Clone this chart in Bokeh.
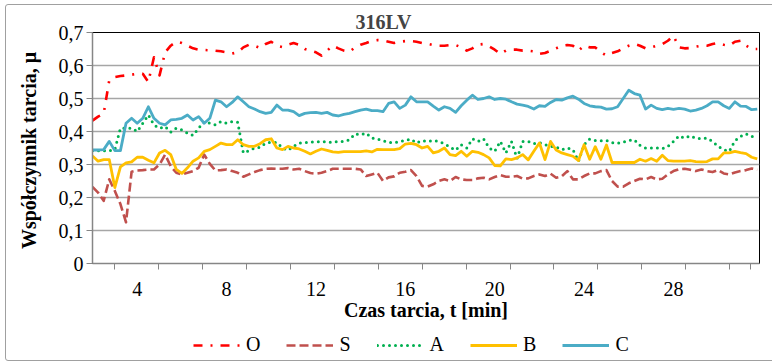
import numpy as np
from bokeh.plotting import figure
from bokeh.layouts import column
from bokeh.models import (FixedTicker, CustomJSTickFormatter, Legend, LegendItem,
                          Range1d, InlineStyleSheet)
from bokeh.embed import file_html
from bokeh.resources import INLINE

# friction time, min (one reading every 15 s)
time_min = np.arange(2.0, 31.76, 0.25)

series_names = ["O", "S", "A", "B", "C"]

mu_O = [0.433, 0.445, 0.454, 0.555, 0.565, 0.568, 0.570, 0.572, 0.575, 0.575,
        0.550, 0.625, 0.570, 0.640, 0.660, 0.672, 0.668, 0.660, 0.652, 0.648,
        0.647, 0.646, 0.645, 0.643, 0.640, 0.636, 0.640, 0.655, 0.663, 0.660,
        0.653, 0.665, 0.672, 0.660, 0.656, 0.663, 0.668, 0.663, 0.650, 0.645,
        0.640, 0.630, 0.645, 0.660, 0.652, 0.645, 0.642, 0.655, 0.663, 0.668,
        0.675, 0.677, 0.676, 0.672, 0.668, 0.672, 0.674, 0.674, 0.672, 0.668,
        0.666, 0.662, 0.660, 0.660, 0.662, 0.662, 0.655, 0.645, 0.652, 0.663,
        0.665, 0.658, 0.648, 0.635, 0.645, 0.648, 0.648, 0.645, 0.645, 0.643,
        0.635, 0.638, 0.645, 0.652, 0.660, 0.662, 0.660, 0.645, 0.660, 0.655,
        0.655, 0.640, 0.630, 0.638, 0.643, 0.652, 0.660, 0.665, 0.660, 0.652,
        0.655, 0.660, 0.665, 0.675, 0.690, 0.655, 0.652, 0.653, 0.657, 0.660,
        0.660, 0.665, 0.668, 0.663, 0.660, 0.672, 0.675, 0.660, 0.650, 0.650]

mu_S = [0.232, 0.215, 0.190, 0.255, 0.220, 0.180, 0.125, 0.278, 0.282, 0.283,
        0.285, 0.285, 0.300, 0.330, 0.295, 0.275, 0.270, 0.275, 0.280, 0.290,
        0.330, 0.302, 0.282, 0.283, 0.285, 0.280, 0.275, 0.263, 0.270, 0.277,
        0.283, 0.287, 0.288, 0.287, 0.287, 0.289, 0.285, 0.287, 0.280, 0.274,
        0.272, 0.275, 0.280, 0.287, 0.287, 0.287, 0.287, 0.287, 0.285, 0.265,
        0.270, 0.275, 0.250, 0.261, 0.264, 0.275, 0.278, 0.283, 0.265, 0.235,
        0.233, 0.240, 0.250, 0.255, 0.250, 0.262, 0.255, 0.253, 0.253, 0.258,
        0.260, 0.255, 0.262, 0.268, 0.263, 0.263, 0.265, 0.257, 0.258, 0.265,
        0.270, 0.265, 0.272, 0.260, 0.264, 0.280, 0.255, 0.255, 0.265, 0.273,
        0.273, 0.280, 0.283, 0.250, 0.233, 0.233, 0.243, 0.250, 0.257, 0.255,
        0.262, 0.255, 0.257, 0.270, 0.280, 0.286, 0.287, 0.284, 0.280, 0.285,
        0.280, 0.277, 0.283, 0.273, 0.270, 0.276, 0.280, 0.283, 0.288, 0.284]

mu_A = [0.342, 0.342, 0.342, 0.342, 0.345, 0.410, 0.410, 0.410, 0.400, 0.425,
        0.450, 0.420, 0.410, 0.415, 0.398, 0.410, 0.405, 0.395, 0.388, 0.410,
        0.430, 0.425, 0.420, 0.430, 0.425, 0.430, 0.428, 0.335, 0.342, 0.350,
        0.352, 0.365, 0.367, 0.367, 0.350, 0.343, 0.355, 0.365, 0.366, 0.368,
        0.368, 0.370, 0.368, 0.367, 0.370, 0.370, 0.375, 0.393, 0.390, 0.395,
        0.380, 0.377, 0.372, 0.367, 0.366, 0.369, 0.373, 0.377, 0.365, 0.372,
        0.370, 0.373, 0.370, 0.363, 0.353, 0.343, 0.360, 0.350, 0.378, 0.370,
        0.378, 0.350, 0.340, 0.370, 0.335, 0.370, 0.318, 0.370, 0.370, 0.363,
        0.366, 0.360, 0.355, 0.353, 0.345, 0.350, 0.345, 0.310, 0.360, 0.377,
        0.373, 0.372, 0.373, 0.366, 0.364, 0.368, 0.373, 0.375, 0.358, 0.350,
        0.350, 0.350, 0.348, 0.355, 0.370, 0.387, 0.380, 0.387, 0.380, 0.378,
        0.380, 0.370, 0.355, 0.345, 0.340, 0.372, 0.385, 0.393, 0.385, 0.382]

mu_B = [0.326, 0.310, 0.315, 0.315, 0.230, 0.293, 0.305, 0.308, 0.322, 0.322,
        0.313, 0.305, 0.335, 0.343, 0.330, 0.285, 0.273, 0.290, 0.310, 0.320,
        0.340, 0.345, 0.355, 0.365, 0.360, 0.360, 0.375, 0.360, 0.355, 0.355,
        0.363, 0.375, 0.378, 0.350, 0.345, 0.355, 0.350, 0.347, 0.340, 0.332,
        0.340, 0.347, 0.343, 0.338, 0.337, 0.339, 0.339, 0.339, 0.339, 0.341,
        0.338, 0.346, 0.345, 0.345, 0.345, 0.348, 0.362, 0.364, 0.360, 0.350,
        0.355, 0.335, 0.340, 0.350, 0.330, 0.327, 0.340, 0.325, 0.340, 0.337,
        0.330, 0.320, 0.297, 0.296, 0.317, 0.315, 0.320, 0.330, 0.314, 0.340,
        0.365, 0.315, 0.370, 0.344, 0.335, 0.330, 0.325, 0.312, 0.360, 0.316,
        0.354, 0.316, 0.359, 0.306, 0.306, 0.306, 0.306, 0.306, 0.316, 0.310,
        0.318, 0.310, 0.328, 0.312, 0.310, 0.310, 0.310, 0.312, 0.309, 0.308,
        0.309, 0.317, 0.317, 0.335, 0.335, 0.340, 0.336, 0.333, 0.322, 0.317]

mu_C = [0.344, 0.344, 0.345, 0.370, 0.342, 0.342, 0.425, 0.440, 0.425, 0.440,
        0.475, 0.440, 0.425, 0.420, 0.435, 0.437, 0.440, 0.450, 0.435, 0.445,
        0.425, 0.440, 0.495, 0.490, 0.475, 0.488, 0.505, 0.490, 0.475, 0.468,
        0.460, 0.455, 0.458, 0.480, 0.465, 0.465, 0.460, 0.448, 0.455, 0.457,
        0.458, 0.455, 0.458, 0.450, 0.447, 0.452, 0.455, 0.460, 0.465, 0.468,
        0.463, 0.463, 0.460, 0.485, 0.490, 0.470, 0.480, 0.505, 0.490, 0.490,
        0.490, 0.477, 0.465, 0.475, 0.470, 0.458, 0.478, 0.495, 0.510, 0.497,
        0.500, 0.505, 0.497, 0.500, 0.498, 0.490, 0.483, 0.480, 0.476, 0.468,
        0.478, 0.476, 0.488, 0.497, 0.495, 0.502, 0.507, 0.498, 0.485, 0.478,
        0.475, 0.474, 0.468, 0.469, 0.475, 0.500, 0.525, 0.515, 0.510, 0.468,
        0.480, 0.470, 0.466, 0.470, 0.467, 0.470, 0.468, 0.462, 0.465, 0.470,
        0.478, 0.490, 0.490, 0.478, 0.470, 0.490, 0.477, 0.476, 0.466, 0.468]

x_tick_labels = [4, 8, 12, 16, 20, 24, 28]
y_ticks = [0.0, 0.1, 0.2, 0.3, 0.4, 0.5, 0.6, 0.7]

FONT = "Liberation Serif"
AXIS_GRAY = "#868686"

p = figure(width=772, height=330, output_backend="svg", toolbar_location=None,
           x_range=Range1d(2.0, 31.85), y_range=Range1d(0, 0.7),
           min_border_left=92, min_border_right=13,
           min_border_top=32, min_border_bottom=67)
p.background_fill_color = "white"
p.border_fill_color = "white"
p.outline_line_color = "black"
p.outline_line_width = 1

# chart title
p.title.text = "316LV"
p.title.align = "left"
p.title.offset = 263
p.title.standoff = 0
p.title.text_font = FONT
p.title.text_font_size = "20px"
p.title.text_font_style = "bold"

# --- axes ---
xa = p.xaxis[0]
xa.ticker = FixedTicker(ticks=x_tick_labels,
                        minor_ticks=[3.0 + 1.965 * k for k in range(15)] + [31.44])
xa.major_tick_line_color = None
xa.major_tick_out = 6
xa.minor_tick_out = 6
xa.minor_tick_in = 0
xa.minor_tick_line_color = AXIS_GRAY
xa.minor_tick_line_width = 1
xa.axis_line_color = AXIS_GRAY
xa.axis_line_width = 1.5
xa.major_label_standoff = 12
xa.major_label_text_font = FONT
xa.major_label_text_font_size = "20px"
xa.major_label_text_color = "black"
xa.axis_label = "Czas tarcia, t [min]"
xa.axis_label_text_font = FONT
xa.axis_label_text_font_size = "20px"
xa.axis_label_text_font_style = "bold"
xa.axis_label_text_color = "black"
xa.axis_label_standoff = 0

ya = p.yaxis[0]
ya.ticker = FixedTicker(ticks=y_ticks)
ya.formatter = CustomJSTickFormatter(
    code='return tick < 1e-9 ? "0" : tick.toFixed(1).replace(".", ",");')
ya.major_tick_out = 6
ya.major_tick_in = 0
ya.minor_tick_line_color = None
ya.major_tick_line_color = AXIS_GRAY
ya.axis_line_color = AXIS_GRAY
ya.axis_line_width = 1.5
ya.major_label_standoff = 3
ya.major_label_text_font = FONT
ya.major_label_text_font_size = "20px"
ya.major_label_text_color = "black"
ya.axis_label = "Współczynnik  tarcia, μ"
ya.axis_label_text_font = FONT
ya.axis_label_text_font_size = "20px"
ya.axis_label_text_font_style = "bold"
ya.axis_label_text_color = "black"
ya.axis_label_standoff = 16

p.xgrid.grid_line_color = None
p.ygrid.ticker = FixedTicker(ticks=y_ticks)
p.ygrid.grid_line_color = "#a6a6a6"
p.ygrid.grid_line_width = 1.3

# --- series ---
styles = {
    "O": dict(line_color="#ff0000", line_width=2.6, line_dash="9 8 2 8"),
    "S": dict(line_color="#c0504d", line_width=2.6, line_dash="9 4"),
    "A": dict(line_color="#00b050", line_width=3, line_dash="0 6", line_cap="round"),
    "B": dict(line_color="#ffc000", line_width=2.8),
    "C": dict(line_color="#4bacc6", line_width=2.8),
}
values = {"O": mu_O, "S": mu_S, "A": mu_A, "B": mu_B, "C": mu_C}
for name in series_names:
    p.line(time_min, values[name], line_join="round", **styles[name])

# --- legend strip underneath ---
# the same series are added here with identical styling; the strip's ranges keep
# them out of view, so only their legend samples show
key = figure(width=772, height=32, output_backend="svg", toolbar_location=None,
             x_range=Range1d(0, 1), y_range=Range1d(0, 1),
             x_axis_location=None, y_axis_location=None,
             min_border_left=0, min_border_right=0,
             min_border_top=0, min_border_bottom=0)
key.outline_line_color = None
key.xgrid.visible = False
key.ygrid.visible = False
key_items = []
for name in series_names:
    r = key.line(time_min, values[name], line_join="round", **styles[name])
    key_items.append(LegendItem(label=name, renderers=[r]))
key.add_layout(Legend(items=key_items, location=(101, 6), orientation="horizontal",
                      glyph_width=47, glyph_height=20, label_standoff=6, label_width=8,
                      padding=0, margin=0, spacing=26,
                      border_line_color=None, background_fill_alpha=0,
                      label_text_font=FONT, label_text_font_size="20px",
                      label_text_color="black"))

chart = column(p, key, spacing=0)
# thin grey frame around the whole chart
chart.stylesheets = [InlineStyleSheet(css="""
:host { overflow: hidden; }
:host::after {
  content: ""; position: absolute; left: 5px; top: 4px;
  width: 790px; height: 357px; box-sizing: border-box;
  border: 1.3px solid #a0a0a0; border-radius: 3px; pointer-events: none;
}
""")]

open("out.html", "w").write(file_html(chart, INLINE))
